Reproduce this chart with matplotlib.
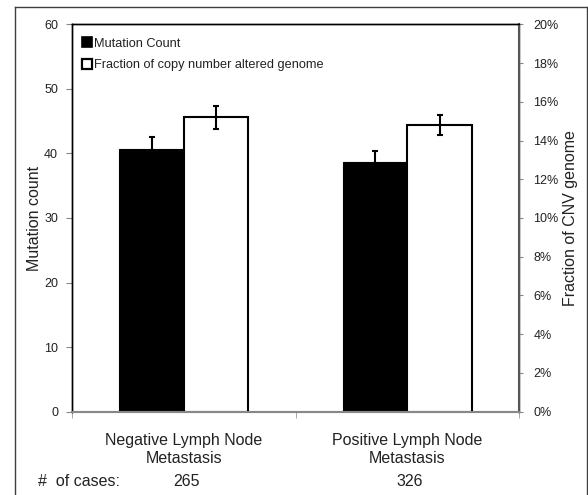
import matplotlib
matplotlib.use("Agg")
import matplotlib.pyplot as plt
from matplotlib.lines import Line2D
from matplotlib.ticker import FuncFormatter, MultipleLocator
import numpy as np

plt.rcParams['font.family'] = ['Liberation Sans', 'DejaVu Sans']

categories = ["Negative Lymph Node\nMetastasis", "Positive Lymph Node\nMetastasis"]
cases = ["265", "326"]
mutation_count = [40.7, 38.7]
mutation_err = [1.8, 1.7]
cnv_fraction = [15.2, 14.8]      # percent
cnv_err = [0.6, 0.5]             # percent

W, H = 588, 495
fig = plt.figure(figsize=(W / 100, H / 100), dpi=100)
ax = fig.add_axes([72 / W, 1 - 411.7 / H, (519.3 - 72) / W, (411.7 - 24.3) / H])
ax2 = ax.twinx()

x = np.arange(len(categories))
bw = 0.2877
off = bw / 2

ax.bar(x - off, mutation_count, width=bw, color='black', edgecolor='black', linewidth=0.8,
       yerr=mutation_err, error_kw=dict(ecolor='black', elinewidth=1.5, capsize=2.5, capthick=1.5),
       zorder=2)
ax2.bar(x + off, cnv_fraction, width=bw, color='white', edgecolor='black', linewidth=1.5,
        yerr=cnv_err, error_kw=dict(ecolor='black', elinewidth=1.5, capsize=2.5, capthick=1.5),
        zorder=2)

ax.set_xlim(-0.5, len(categories) - 0.5)
ax.set_ylim(0, 60)
ax2.set_ylim(0, 20)
ax.yaxis.set_major_locator(MultipleLocator(10))
ax2.yaxis.set_major_locator(MultipleLocator(2))
ax2.yaxis.set_major_formatter(FuncFormatter(lambda v, p: f"{v:.0f}%"))

ax.set_xticks(x)
ax.set_xticklabels(categories, fontsize=11.5, color='#222222', linespacing=1.25)
ax.set_xticks([-0.5, 0.5, 1.5], minor=True)
ax.tick_params(axis='x', which='major', length=0, pad=15)
ax.tick_params(axis='x', which='minor', length=4, color='#999999', direction='out')

ax.tick_params(axis='y', which='major', length=4, color='#888888', direction='out',
               labelsize=9, labelcolor='#222222', pad=6)
ax2.tick_params(axis='y', which='major', length=3, color='#888888', direction='out',
                labelsize=9, labelcolor='#222222', pad=7)

ax.set_ylabel("Mutation count", fontsize=11.5, color='#222222')
ax.yaxis.set_label_coords(-0.068, 0.5)
ax2.set_ylabel("Fraction of CNV genome", fontsize=11.5, color='#222222')
ax2.yaxis.set_label_coords(1.098, 0.5)

for a in (ax, ax2):
    for s in ('top', 'right', 'left'):
        a.spines[s].set_color('black')
        a.spines[s].set_linewidth(1.0)
    a.spines['bottom'].set_color('#888888')
    a.spines['bottom'].set_linewidth(1.5)
    a.spines['bottom'].set_zorder(5)
ax2.spines['right'].set_color('#555555')
ax2.spines['right'].set_linewidth(1.5)

handles = [
    Line2D([], [], marker='s', linestyle='none', markersize=7.5, markerfacecolor='black',
           markeredgecolor='black', markeredgewidth=1.2),
    Line2D([], [], marker='s', linestyle='none', markersize=7.5, markerfacecolor='white',
           markeredgecolor='black', markeredgewidth=1.6),
]
leg = ax2.legend(handles, ["Mutation Count", "Fraction of copy number altered genome"],
                 loc='upper left', bbox_to_anchor=(0.005, 0.985), frameon=False,
                 fontsize=9.2, handlelength=0.8, handletextpad=0.15, labelspacing=0.75,
                 borderaxespad=0.2)
for t in leg.get_texts():
    t.set_color('#222222')

# number of cases row
fig.text(38 / W, 1 - 482 / H, "#  of cases:", fontsize=11.5, color='#222222', va='center', ha='left')
for xi, c in zip(x, cases):
    xd = ax.transData.transform((xi, 0))[0]
    fig.text(xd / W + 0.004, 1 - 481 / H, c, fontsize=11.5, color='#222222', va='center', ha='center')

# outer frame (left, top, right)
frame_kw = dict(color='#404040', linewidth=1.0, transform=fig.transFigure)
fig.add_artist(Line2D([14.5 / W, 14.5 / W], [0, 1 - 6.5 / H], **frame_kw))
fig.add_artist(Line2D([14.5 / W, 586.5 / W], [1 - 6.5 / H, 1 - 6.5 / H], **frame_kw))
fig.add_artist(Line2D([586.5 / W, 586.5 / W], [0, 1 - 6.5 / H], **frame_kw))

fig.savefig("out.png", dpi=100, facecolor='white')
